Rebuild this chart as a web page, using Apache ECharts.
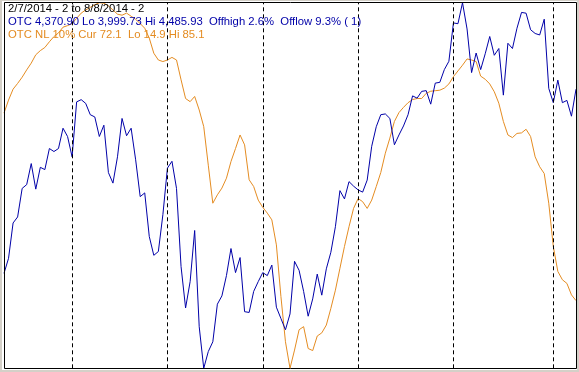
<!DOCTYPE html>
<html>
<head>
<meta charset="utf-8">
<script src="https://cdn.jsdelivr.net/npm/echarts@6/dist/echarts.min.js"></script>
<style>
html,body{margin:0;padding:0;background:#d4d0c8;}
#chart{width:579px;height:372px;}
</style>
</head>
<body>
<div id="chart"></div>
<script>
// Trading days 2/7/2014 .. 8/8/2014 (weekends and market holidays skipped)
const startDate = '2014-02-07';
const endDate = '2014-08-08';
const holidays = ['2014-02-17', '2014-04-18', '2014-05-26', '2014-07-04'];

// OTC (Nasdaq composite) closes
const otcValues = [
  4126,4146,4193,4201,4239,4244,4272,4238,4267,4264,
  4292,4288,4292,4319,4308,4281,4354,4357,4352,4337,
  4334,4308,4323,4260,4246,4281,4332,4309,4319,4277,
  4228,4233,4175,4150,4155,4204,4266,4275,4239,4135,
  4080,4115,4183,4055,3999.73,4022,4035,4085,4096,4123,
  4159,4127,4147,4075,4074,4102,4115,4127,4123,4137,
  4081,4066,4051,4072,4142,4130,4102,4069,4092,4125,
  4097,4132,4154,4188,4236,4225,4248,4242,4237,4234,
  4250,4295,4321,4337,4338,4332,4297,4310,4322,4337,
  4362,4359,4368,4369,4351,4379,4380,4397,4408,4459,
  4458,4485.93,4451,4393,4419,4397,4418,4441,4416,4425,
  4363,4432,4425,4452,4473,4472,4450,4445,4443,4464,
  4372,4353,4383,4353,4356,4335,4370.9
];

// OTC NL 10% indicator (plotted on an inverted scale)
const nlValues = [
  36.1,33.6,31.5,30.4,29.2,27.8,26.5,24.9,24.1,23.5,
  22.4,21.4,20.7,19.6,19.3,18.9,17.9,16.9,16.3,15.8,
  15.3,14.9,15.0,15.5,16.3,17.1,17.3,16.9,17.5,18.1,
  18.9,19.8,21.7,24.6,25.9,26.2,25.9,25.4,25.9,29.7,
  33.3,33.9,32.9,35.5,38.7,46.1,53.4,51.8,50.5,48.6,
  45.4,42.9,40.3,42.2,48.9,50.2,52.8,54.2,55.3,56.6,
  61.4,71.3,80.0,85.1,81.6,77.7,77.1,81.3,81.7,78.9,
  78.3,76.8,73.6,70.1,65.9,61.7,57.9,54.4,52.5,53.1,
  54.4,52.8,50.2,47.5,43.8,40.9,37.7,36.0,35.0,34.1,
  33.5,33.3,33.3,32.3,31.9,31.8,31.7,31.3,30.5,29.1,
  28.0,26.9,25.7,25.9,26.2,29.0,29.6,30.5,32.0,34.2,
  37.7,40.3,40.8,40.0,39.9,39.2,40.6,44.5,46.4,47.7,
  53.4,61.7,66.5,68.1,68.8,71.0,72.1
];

const otcRange = [3999.73, 4485.93];
const nlRange = [14.9, 85.1];

const headerLines = [
  '2/7/2014 - 2 to 8/8/2014 - 2',
  'OTC 4,370.90 Lo 3,999.73 Hi 4,485.93  Offhigh 2.6%  Offlow 9.3% ( 1)',
  'OTC NL 10% Cur 72.1  Lo 14.9 Hi 85.1'
];

function tradingDays(a, b, skip) {
  const out = [];
  const d = new Date(a + 'T00:00:00Z');
  const e = new Date(b + 'T00:00:00Z');
  while (d <= e) {
    const iso = d.toISOString().slice(0, 10);
    const wd = d.getUTCDay();
    if (wd !== 0 && wd !== 6 && skip.indexOf(iso) < 0) {
      out.push((d.getUTCMonth() + 1) + '/' + d.getUTCDate() + '/' + d.getUTCFullYear());
    }
    d.setUTCDate(d.getUTCDate() + 1);
  }
  return out;
}

const categories = tradingDays(startDate, endDate, holidays);
const monthStarts = [];
for (let i = 1; i < categories.length; i++) {
  if (categories[i].split('/')[0] !== categories[i - 1].split('/')[0]) monthStarts.push(categories[i]);
}

const BLUE = '#0000a8';
const ORANGE = '#e48c22';
const FONT = '11.3px "Liberation Sans", Arial, sans-serif';

const chart = echarts.init(document.getElementById('chart'), null, {renderer: 'canvas'});
chart.setOption({
  animation: false,
  backgroundColor: '#d4d0c8',
  grid: {left: 4, top: 2.7, width: 572, height: 365.6, containLabel: false},
  xAxis: {
    type: 'category', data: categories, boundaryGap: false, show: false
  },
  yAxis: [
    {type: 'value', min: otcRange[0], max: otcRange[1], show: false, splitLine: {show: false}},
    {type: 'value', min: nlRange[0], max: nlRange[1], inverse: true, show: false, splitLine: {show: false}}
  ],
  graphic: [
    {type: 'rect', z: -10, silent: true, shape: {x: 2, y: 1, width: 575, height: 369}, style: {fill: '#ffffff'}},
    {type: 'rect', z: 50, silent: true, shape: {x: 4.5, y: 2.5, width: 572, height: 366}, style: {fill: null, stroke: '#000000', lineWidth: 1}},
    {type: 'text', z: 60, silent: true, left: 8, top: 3, style: {text: headerLines[0], fill: '#000000', font: FONT}},
    {type: 'text', z: 60, silent: true, left: 8, top: 16.5, style: {text: headerLines[1], fill: BLUE, font: FONT}},
    {type: 'text', z: 60, silent: true, left: 8, top: 29.5, style: {text: headerLines[2], fill: ORANGE, font: FONT}}
  ],
  series: [
    {
      type: 'line', name: 'OTC NL 10%', yAxisIndex: 1, data: nlValues,
      showSymbol: false, symbol: 'none', z: 3,
      lineStyle: {color: ORANGE, width: 1}
    },
    {
      type: 'line', name: 'OTC', yAxisIndex: 0, data: otcValues,
      showSymbol: false, symbol: 'none', z: 4,
      lineStyle: {color: BLUE, width: 1},
      markLine: {
        silent: true, symbol: ['none', 'none'], label: {show: false},
        lineStyle: {color: '#000000', width: 1, type: [4, 3]},
        data: monthStarts.map(function (d) { return {xAxis: d}; })
      }
    }
  ]
});
</script>
</body>
</html>
